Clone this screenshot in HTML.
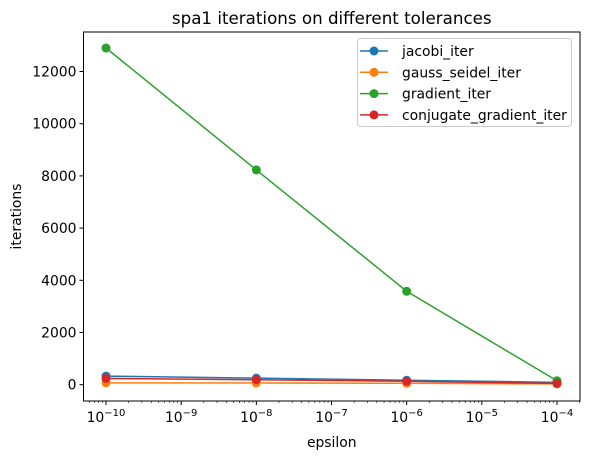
<!DOCTYPE html>
<html><head><meta charset="utf-8"><style>
body{margin:0;background:#fff;font-family:"Liberation Sans","DejaVu Sans",sans-serif}
svg text{font-family:"DejaVu Sans","Liberation Sans",sans-serif;fill:#000}
</style></head><body>
<svg id="c" width="589" height="459" xmlns="http://www.w3.org/2000/svg"></svg>
<script>
const epsExp=[-10,-8,-6,-4];
const jacobi=[330,250,170,90];
const gauss=[70,65,55,30];
const gradient=[12900,8230,3580,150];
const conjugate=[240,190,130,50];
const yTicks=[0,2000,4000,6000,8000,10000,12000];
const xTicks=[-10,-9,-8,-7,-6,-5,-4];
const L=83.5,R=580,T=32,B=401;
const X=e=>106+(e+10)*(557-106)/6;
const Y=v=>384.7-v*(52.2/2000);
const FS=13.9;
const s=document.getElementById('c');const NS='http://www.w3.org/2000/svg';
function mk(t,a,p){const e=document.createElementNS(NS,t);for(const k in a)e.setAttribute(k,a[k]);(p||s).appendChild(e);return e;}
const title=mk('text',{x:(L+R)/2,y:24,'text-anchor':'middle','font-size':16.7});title.textContent='spa1 iterations on different tolerances';


yTicks.forEach(v=>{mk('line',{x1:L-4,x2:L,y1:Y(v),y2:Y(v),stroke:'#000'});
const t=mk('text',{x:L-7,y:Y(v)+5,'text-anchor':'end','font-size':FS});t.textContent=v;

});
for(let d=-11;d<=-4;d++){for(let m=2;m<=9;m++){const e=d+Math.log10(m);const x=X(e);if(x>L&&x<R)mk('line',{x1:x,x2:x,y1:B,y2:B+2,stroke:'#000','stroke-width':0.6});}}
xTicks.forEach(e=>{mk('line',{x1:X(e),x2:X(e),y1:B,y2:B+4,stroke:'#000'});
const t=mk('text',{x:X(e),y:B+21,'text-anchor':'middle','font-size':FS});t.innerHTML='10<tspan dy="-6" font-size="10">\u2212'+(-e)+'</tspan>';

});
const xl=mk('text',{x:(L+R)/2,y:447,'text-anchor':'middle','font-size':FS});xl.textContent='epsilon';


const yl=mk('text',{x:0,y:0,'text-anchor':'middle','font-size':FS,transform:`translate(21,${(T+B)/2}) rotate(-90)`});yl.textContent='iterations';


const series=[['jacobi_iter',jacobi,'#1f77b4'],['gauss_seidel_iter',gauss,'#ff7f0e'],['gradient_iter',gradient,'#2ca02c'],['conjugate_gradient_iter',conjugate,'#d62728']];
series.forEach(([n,d,c])=>{const g=mk('g',{});


mk('polyline',{points:d.map((v,i)=>X(epsExp[i])+','+Y(v)).join(' '),fill:'none',stroke:c,'stroke-width':1.5},g);
d.forEach((v,i)=>mk('circle',{cx:X(epsExp[i]),cy:Y(v),r:4.5,fill:c},g));});
mk('rect',{x:L,y:T,width:R-L,height:B-T,fill:'none',stroke:'#000','stroke-width':1});
const lg=mk('g',{});


mk('rect',{x:357.5,y:38.5,width:214,height:88,fill:'#fff',stroke:'#ccc',rx:3},lg);
series.forEach(([n,d,c],i)=>{const y=51+i*21.3;
mk('line',{x1:360,x2:388,y1:y,y2:y,stroke:c,'stroke-width':1.5},lg);
mk('circle',{cx:374,cy:y,r:4.5,fill:c},lg);
const t=mk('text',{x:402,y:y+5,'font-size':FS},lg);t.textContent=n;

});
</script>
</body></html>
